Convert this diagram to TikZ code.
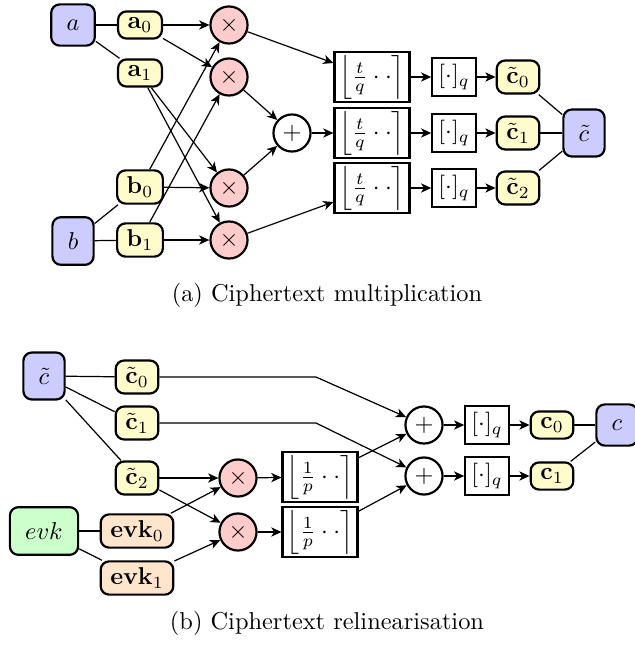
\documentclass[tikz,border=0pt]{standalone}
\usepackage{amsmath}
\usetikzlibrary{arrows.meta}
\begin{document}
\begin{tikzpicture}[x=0.41pt,y=-0.41pt,
  blk/.style={draw, line width=0.9pt, rounded corners=3.5pt, fill=blue!20, inner sep=6.3pt},
  grn/.style={blk, fill=green!20},
  yel/.style={draw, line width=0.9pt, rounded corners=3.5pt, fill=yellow!20, inner xsep=3.95pt, inner ysep=2.6pt},
  org/.style={yel, fill=orange!20},
  mul/.style={circle, draw, line width=0.9pt, fill=red!20, minimum size=15.2pt, inner sep=0pt},
  add/.style={mul, fill=white},
  rnd/.style={draw, line width=0.9pt, minimum width=30.7pt, minimum height=20.5pt, inner sep=1pt},
  md/.style={draw, line width=0.9pt, inner sep=2.5pt},
  conn/.style={line width=0.5pt},
  arr/.style={conn, -{Stealth[length=4.2pt,width=3.8pt,inset=1.2pt]}},
]
\useasboundingbox (0,0) rectangle (635,649);

% ---------- (a) ----------
\node[blk] (a) at (73,25) {$a$};
\node[blk] (b) at (73,241) {$b$};
\node[yel] (a0) at (140,25) {$\mathbf{a}_0$};
\node[yel] (a1) at (140,73) {$\mathbf{a}_1$};
\node[yel] (b0) at (140,187) {$\mathbf{b}_0$};
\node[yel] (b1) at (140,240) {$\mathbf{b}_1$};
\node[mul] (m1) at (229,25) {$\times$};
\node[mul] (m2) at (229,77) {$\times$};
\node[mul] (m3) at (229,188) {$\times$};
\node[mul] (m4) at (229,240) {$\times$};
\node[add] (p) at (292,133) {$+$};
\node[rnd] (f1) at (372,77) {$\left\lfloor \frac{t}{q}\cdot\cdot \right\rceil$};
\node[rnd] (f2) at (372,133) {$\left\lfloor \frac{t}{q}\cdot\cdot \right\rceil$};
\node[rnd] (f3) at (372,188) {$\left\lfloor \frac{t}{q}\cdot\cdot \right\rceil$};
\node[md] (q1) at (454,77) {$[\cdot]_q$};
\node[md] (q2) at (454,133) {$[\cdot]_q$};
\node[md] (q3) at (454,188) {$[\cdot]_q$};
\node[yel] (ct0) at (518,77) {$\tilde{\mathbf{c}}_0$};
\node[yel] (ct1) at (518,133) {$\tilde{\mathbf{c}}_1$};
\node[yel] (ct2) at (518,188) {$\tilde{\mathbf{c}}_2$};
\node[blk] (ct) at (584,133) {$\tilde{c}$};
\node (capa) at (327,295) {(a) Ciphertext multiplication};

\draw[conn] (a) -- (a0);
\draw[conn] (a) -- (a1);
\draw[conn] (b) -- (b0);
\draw[conn] (b) -- (b1);
\draw[arr] (a0) -- (m1);
\draw[arr] (a0) -- (m2);
\draw[arr] (a1) -- (m3);
\draw[arr] (a1) -- (m4);
\draw[arr] (b0) -- (m1);
\draw[arr] (b0) -- (m3);
\draw[arr] (b1) -- (m2);
\draw[arr] (b1) -- (m4);
\draw[arr] (m1) -- (f1);
\draw[arr] (m2) -- (p);
\draw[arr] (m3) -- (p);
\draw[arr] (p) -- (f2);
\draw[arr] (m4) -- (f3);
\draw[arr] (f1) -- (q1);
\draw[arr] (f2) -- (q2);
\draw[arr] (f3) -- (q3);
\draw[arr] (q1) -- (ct0);
\draw[arr] (q2) -- (ct1);
\draw[arr] (q3) -- (ct2);
\draw[conn] (ct0) -- (ct);
\draw[conn] (ct1) -- (ct);
\draw[conn] (ct2) -- (ct);

% ---------- (b) ----------
\node[blk] (ctb) at (44,376) {$\tilde{c}$};
\node[yel] (cb0) at (137,377) {$\tilde{\mathbf{c}}_0$};
\node[yel] (cb1) at (137,423) {$\tilde{\mathbf{c}}_1$};
\node[yel] (cb2) at (137,478) {$\tilde{\mathbf{c}}_2$};
\node[grn] (evk) at (44,531) {$evk$};
\node[org] (evk0) at (137,531) {$\mathbf{evk}_0$};
\node[org] (evk1) at (137,578) {$\mathbf{evk}_1$};
\node[mul] (mb1) at (238,478) {$\times$};
\node[mul] (mb2) at (238,532) {$\times$};
\node[rnd] (fb1) at (320,477) {$\left\lfloor \frac{1}{p}\cdot\cdot \right\rceil$};
\node[rnd] (fb2) at (320,532) {$\left\lfloor \frac{1}{p}\cdot\cdot \right\rceil$};
\node[add] (pb1) at (424,425) {$+$};
\node[add] (pb2) at (424,476) {$+$};
\node[md] (qb1) at (487,425) {$[\cdot]_q$};
\node[md] (qb2) at (487,476) {$[\cdot]_q$};
\node[yel] (c0) at (552,425) {$\mathbf{c}_0$};
\node[yel] (c1) at (552,476) {$\mathbf{c}_1$};
\node[blk] (c) at (617,425) {$c$};
\coordinate (k0) at (316,377);
\coordinate (k1) at (316,423);
\node (capb) at (327,623) {(b) Ciphertext relinearisation};

\draw[conn] (ctb) -- (cb0);
\draw[conn] (ctb) -- (cb1);
\draw[conn] (ctb) -- (cb2);
\draw[conn] (evk) -- (evk0);
\draw[conn] (evk) -- (evk1);
\draw[arr] (cb2) -- (mb1);
\draw[arr] (cb2) -- (mb2);
\draw[arr] (evk0) -- (mb1);
\draw[arr] (evk1) -- (mb2);
\draw[arr] (mb1) -- (fb1);
\draw[arr] (mb2) -- (fb2);
\draw[arr] (cb0.east) -- (k0) -- (pb1);
\draw[arr] (cb1.east) -- (k1) -- (pb2);
\draw[arr] (fb1) -- (pb1);
\draw[arr] (fb2) -- (pb2);
\draw[arr] (pb1) -- (qb1);
\draw[arr] (pb2) -- (qb2);
\draw[arr] (qb1) -- (c0);
\draw[arr] (qb2) -- (c1);
\draw[conn] (c0) -- (c);
\draw[conn] (c1) -- (c);
\end{tikzpicture}
\end{document}
